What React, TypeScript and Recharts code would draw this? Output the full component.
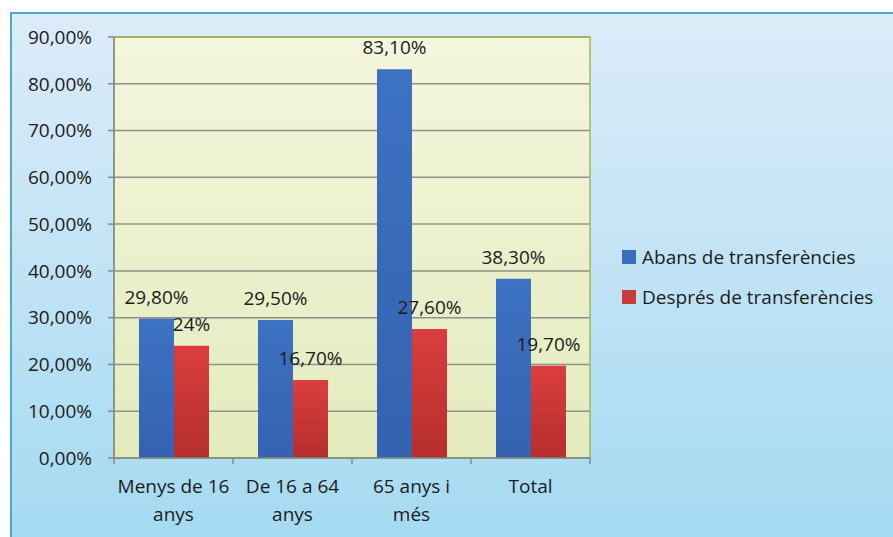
import React from "react";
import {
  BarChart,
  Bar,
  XAxis,
  YAxis,
  CartesianGrid,
  LabelList,
  Legend,
  ReferenceArea,
} from "recharts";

const categories = ["Menys de 16\nanys", "De 16 a 64\nanys", "65 anys i\nmés", "Total"];
const abans = [29.8, 29.5, 83.1, 38.3];
const despres = [24, 16.7, 27.6, 19.7];
const yTicks = [0, 10, 20, 30, 40, 50, 60, 70, 80, 90];

const SERIES = [
  { key: "abans", name: "Abans de transferències", color: "#3a6cbc", fill: "url(#blueBar)" },
  { key: "despres", name: "Després de transferències", color: "#c93a3a", fill: "url(#redBar)" },
];

const data = categories.map((name, i) => ({
  name,
  abans: abans[i],
  despres: despres[i],
}));

const FONT = "'Open Sans', Lato, sans-serif";
const FS = 19;
const TEXT = "#1c1c1c";
const AXIS = "#878787";

const comma = (v: number) => `${v.toFixed(2).replace(".", ",")}%`;
// the data labels drop the decimals when the value is whole (24%)
const pct = (v: number) => (Number.isInteger(v) ? `${v}%` : comma(v));

function CategoryTick(props: any) {
  const { x, y, payload, index, visibleTicksCount } = props;
  const half = payload?.offset ?? 59.5;
  const lines = String(payload.value).split("\n");
  return (
    <g>
      <line x1={x - half} x2={x - half} y1={y} y2={y + 6} stroke={AXIS} strokeWidth={1.5} />
      {index === visibleTicksCount - 1 && (
        <line x1={x + half} x2={x + half} y1={y} y2={y + 6} stroke={AXIS} strokeWidth={1.5} />
      )}
      <text x={x} y={y + 35} textAnchor="middle" fill={TEXT} fontSize={FS} fontFamily={FONT}>
        {lines.map((l, i) => (
          <tspan key={i} x={x} dy={i === 0 ? 0 : 28}>
            {l}
          </tspan>
        ))}
      </text>
    </g>
  );
}

function LegendBox() {
  return (
    <div style={{ fontFamily: FONT, fontSize: FS, color: TEXT }}>
      {SERIES.map((s) => (
        <div key={s.key} style={{ height: 40, display: "flex", alignItems: "center", whiteSpace: "nowrap" }}>
          <span
            style={{
              width: 14,
              height: 14,
              background: s.color,
              display: "inline-block",
              marginRight: 6,
              flex: "none",
            }}
          />
          <span>{s.name}</span>
        </div>
      ))}
    </div>
  );
}

export default function App() {
  return (
    <div style={{ position: "relative", width: 893, height: 537, overflow: "hidden", background: "#fff" }}>
      <style>{"body{margin:0}"}</style>
      <div
        style={{
          position: "absolute",
          left: 10,
          top: 12,
          width: 920,
          height: 560,
          border: "2px solid #4bacc6",
          background: "linear-gradient(#dcecf9, #a1d9f1)",
        }}
      />
      <div style={{ position: "absolute", left: 0, top: 0 }}>
        <BarChart
          width={893}
          height={537}
          data={data}
          margin={{ top: 37, right: 303, bottom: 0, left: 0 }}
          barCategoryGap="21%"
          barGap={0}
        >
          <defs>
            <linearGradient id="plotBg" x1="0" y1="0" x2="0" y2="1">
              <stop offset="0%" stopColor="#f4f6dd" />
              <stop offset="100%" stopColor="#e3ebbd" />
            </linearGradient>
            <linearGradient id="blueBar" x1="0" y1="0" x2="0" y2="1">
              <stop offset="0%" stopColor="#3d72c2" />
              <stop offset="100%" stopColor="#3462b0" />
            </linearGradient>
            <linearGradient id="redBar" x1="0" y1="0" x2="0" y2="1">
              <stop offset="0%" stopColor="#da3e3d" />
              <stop offset="100%" stopColor="#b52e2e" />
            </linearGradient>
          </defs>
          <CartesianGrid
            vertical={false}
            fill="url(#plotBg)"
            stroke="#8f918a"
            strokeWidth={1.5}
          />
          <ReferenceArea y1={0} y2={90} fill="none" stroke="#9bbb59" strokeWidth={1.5} />
          <XAxis
            dataKey="name"
            height={79}
            stroke={AXIS}
            strokeWidth={1.5}
            tickSize={0}
            tickMargin={0}
            tickLine={false}
            interval={0}
            tick={<CategoryTick />}
          />
          <YAxis
            width={114}
            domain={[0, 90]}
            ticks={yTicks}
            interval={0}
            stroke={AXIS}
            strokeWidth={1.5}
            tickSize={6}
            tickMargin={16}
            tickFormatter={comma}
            tick={{ fill: TEXT, fontSize: FS, fontFamily: FONT }}
          />
          <Legend
            layout="vertical"
            align="center"
            verticalAlign="middle"
            wrapperStyle={{ left: 622, top: 237, width: 271 }}
            content={<LegendBox />}
          />
          {SERIES.map((s) => (
            <Bar key={s.key} dataKey={s.key} name={s.name} fill={s.fill} isAnimationActive={false}>
              <LabelList
                dataKey={s.key}
                position="top"
                offset={15}
                formatter={(v: any) => pct(Number(v))}
                style={{ fill: TEXT, fontSize: FS, fontFamily: FONT }}
              />
            </Bar>
          ))}
        </BarChart>
      </div>
    </div>
  );
}
